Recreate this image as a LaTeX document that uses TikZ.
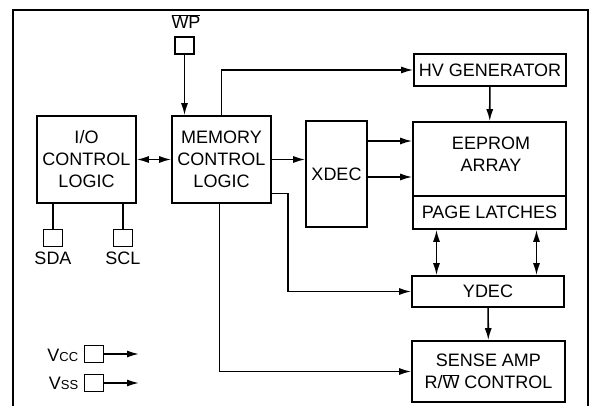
\documentclass[tikz,border=0pt]{standalone}
\usepackage{fontspec}
\setmainfont{Liberation Sans}
\usetikzlibrary{arrows.meta}
\newcommand{\ovl}[1]{$\overline{\mbox{#1}}$}

\begin{document}
\begin{tikzpicture}[
    x=1pt, y=-1pt,
    >={Latex[length=12pt,width=7pt]},
    line width=1.6pt,
    every node/.style={font=\fontsize{18}{22}\selectfont},
    box/.style={draw, line width=1.6pt, align=center, inner xsep=1pt, inner ysep=0pt},
    pin/.style={draw, line width=1.4pt, minimum width=19pt, minimum height=17pt, inner sep=0pt},
    lbl/.style={inner sep=0pt, align=center},
  ]
  \useasboundingbox (0,0) rectangle (590,406);
  \draw[line width=1.8pt] (13,406) -- (13,10) -- (588,10) -- (588,406);
  \node[box, minimum width=99pt, minimum height=87pt] (io) at (86.5,159.5) {I/O\\CONTROL\\LOGIC};
  \node[box, minimum width=99pt, minimum height=87pt] (mem) at (221.5,159.5) {MEMORY\\CONTROL\\LOGIC};
  \node[box, minimum width=61pt, minimum height=106pt] (xdec) at (336.5,174) {XDEC};
  \node[box, minimum width=152pt, minimum height=32pt] (hv) at (490,70) {HV GENERATOR};
  \node[box, minimum width=153pt, minimum height=74pt] (eeprom) at (489.5,159) {};
  \node[lbl] (eepromtxt) at (491,154) {EEPROM\\ARRAY};
  \node[box, minimum width=153pt, minimum height=33pt] (latch) at (489.5,212.5) {PAGE LATCHES};
  \node[box, minimum width=152pt, minimum height=31pt] (ydec) at (488,291.5) {YDEC};
  \node[box, minimum width=153pt, minimum height=61pt] (sense) at (488.5,371.5) {SENSE AMP\\R/\ovl{W} CONTROL};
  \node[pin] (wp) at (184.5,45.5) {};
  \node[lbl, anchor=base] (wplbl) at (186,28.5) {\ovl{WP}};
  \node[pin] (sda) at (53,238) {};
  \node[pin] (scl) at (123,238) {};
  \node[lbl, anchor=base] (sdalbl) at (53,265) {SDA};
  \node[lbl, anchor=base] (scllbl) at (123,265) {SCL};
  \node[pin] (vcc) at (94,354) {};
  \node[pin] (vss) at (94,383) {};
  \node[lbl, anchor=base east] (vcclbl) at (79,362) {V{\fontsize{13}{13}\selectfont CC}};
  \node[lbl, anchor=base east] (vsslbl) at (79,390) {V{\fontsize{13}{13}\selectfont SS}};
  \coordinate (vccend) at (139,354);
  \coordinate (vssend) at (139,383);
  \draw[->] (wp) -- (wp |- mem.north);
  \draw[<->] (io) -- (mem);
  \draw[->] (mem.east) -- (mem.east -| xdec.west);
  \draw[->] (mem.north) |- (hv.west);
  \draw[->] (hv) -- (eeprom);
  \draw[->] ([yshift=33pt]xdec.east) -- ([yshift=33pt]xdec.east -| eeprom.west);
  \draw[->] ([yshift=-3pt]xdec.east) -- ([yshift=-3pt]xdec.east -| eeprom.west);
  \draw[<->] ([xshift=-53pt]latch.south) -- ([xshift=-53pt]latch.south |- ydec.north);
  \draw[<->] ([xshift=47pt]latch.south) -- ([xshift=47pt]latch.south |- ydec.north);
  \draw[->] ([yshift=-34pt]mem.east) -- ++(16,0) |- (ydec.west);
  \draw[->] ([xshift=-2pt]mem.south) |- (sense.west);
  \draw[->] (ydec) -- (sense);
  \draw (sda) -- (sda |- io.south);
  \draw (scl) -- (scl |- io.south);
  \draw[->] (vcc) -- (vccend);
  \draw[->] (vss) -- (vssend);
\end{tikzpicture}
\end{document}
